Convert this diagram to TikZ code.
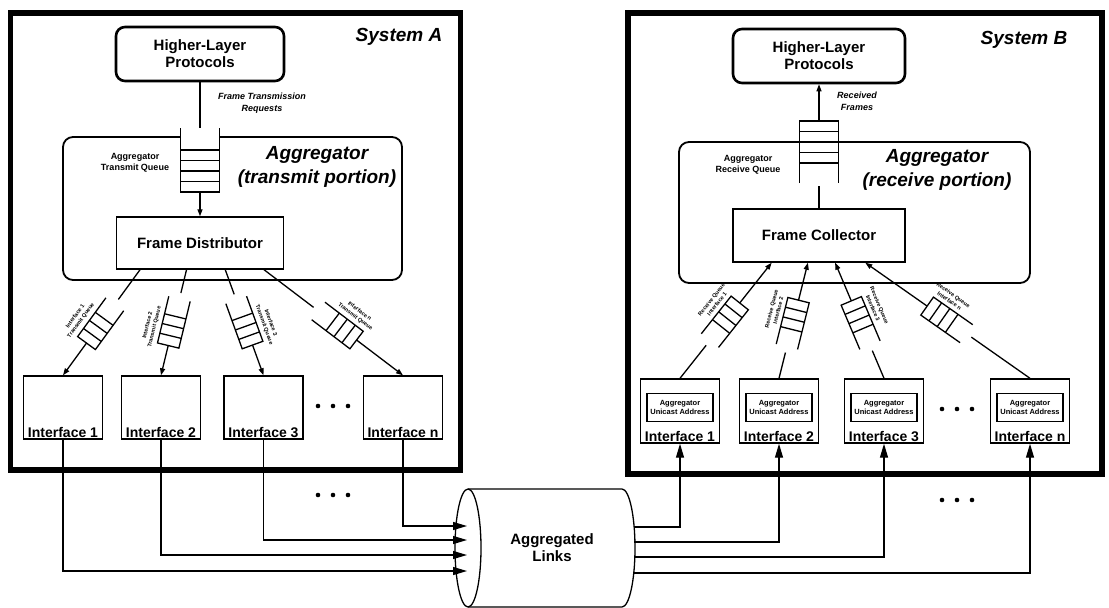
\documentclass[tikz,border=0pt]{standalone}
\usepackage{fontspec}
\setmainfont{Liberation Sans}
\usetikzlibrary{arrows.meta,calc,positioning}

% queue drawn across a connector: #1 open side, #2 arrow side, #3 pos, #4 label
\newcommand{\fifo}[4]{%
  \coordinate (qm) at ($(#1)!#3!(#2)$);
  \coordinate (qc) at ($(qm)!15pt!(#2)$);
  \coordinate (qo) at ($(qm)!-33pt!(#2)$);
  \draw[link] ($(qo)!11pt!90:(#2)$) -- ($(qc)!11pt!90:(#2)$)
    -- ($(qc)!11pt!-90:(#2)$) -- ($(qo)!11pt!-90:(#2)$);
  \foreach \d in {10pt,20pt,30pt}{
    \coordinate (qs) at ($(qc)!\d!(#1)$);
    \draw[link] ($(qs)!11pt!90:(#2)$) -- ($(qs)!11pt!-90:(#2)$);
  }
  \draw[link] (#1) -- ($(qo)!6pt!(#1)$);
  \draw[link, smallhead] (qc) -- (#2);
  \path (#1) -- (#2) node[qlabel, pos=#3, sloped, above=14pt] {#4};
}

\begin{document}
\begin{tikzpicture}[x=1pt,y=-1pt,
  sysframe/.style={draw, line width=5.5pt, inner sep=0pt},
  sysname/.style={font=\fontsize{19}{21}\selectfont\bfseries\itshape},
  hlbox/.style={draw, line width=2.6pt, rounded corners=9pt, align=center,
    font=\fontsize{15}{17}\selectfont\bfseries, minimum height=54pt},
  aggbox/.style={draw, line width=1.8pt, rounded corners=10pt},
  bigtitle/.style={align=center, font=\fontsize{19}{24}\selectfont\bfseries\itshape},
  procbox/.style={draw, line width=1.4pt, font=\fontsize{15}{17}\selectfont\bfseries,
    minimum height=52pt},
  ifbox/.style={draw, line width=1.4pt, minimum width=79pt, minimum height=63pt},
  ifname/.style={font=\fontsize{14}{16}\selectfont\bfseries, inner sep=2pt},
  addrbox/.style={draw, line width=1.1pt, minimum width=66pt, minimum height=28pt,
    inner sep=0pt, align=center, font=\fontsize{7.5}{9}\selectfont\bfseries},
  reqnote/.style={align=center, font=\fontsize{9}{12}\selectfont\bfseries\itshape},
  qname/.style={align=center, font=\fontsize{9}{11}\selectfont\bfseries},
  qlabel/.style={align=center, font=\fontsize{5.5}{7}\selectfont\bfseries, inner sep=1pt},
  linkname/.style={align=center, font=\fontsize{15}{17}\selectfont\bfseries},
  link/.style={line width=1.3pt},
  bighead/.style={-{Triangle[length=14pt,width=8pt]}},
  smallhead/.style={-{Triangle[length=7pt,width=5pt]}}]
\useasboundingbox (0,0) rectangle (1109,608);
\fill[white] (0,0) rectangle (1109,608);

% the two systems
\node[sysframe, minimum width=450pt, minimum height=457pt] (sysA) at (235.5,241.5) {};
\node[sysframe, minimum width=474pt, minimum height=461pt] (sysB) at (865,243.5) {};
\node[sysname] (sysAname) at (399,37) {System A};
\node[sysname] (sysBname) at (1024,40) {System B};

% transmit side
\node[hlbox, minimum width=168pt] (hlpA) at (200,54) {Higher-Layer\\Protocols};
\node[aggbox, minimum width=339pt, minimum height=143pt] (aggA) at (232.5,208.5) {};
\node[bigtitle] (aggAname) at (317,167) {Aggregator\\(transmit portion)};
\node[qname] (qAname) at (135,163) {Aggregator\\Transmit Queue};
\node[procbox, minimum width=167pt] (fdA) at (200,243) {Frame Distributor};
\node[reqnote] (reqA) at (262,103) {Frame Transmission\\Requests};

\coordinate (qAtop) at (200,128);
\coordinate (qAbot) at (200,192);
\fill[white] (180.5,128) rectangle (219.5,192);
\draw[link] (180.5,128) -- (180.5,192) -- (219.5,192) -- (219.5,128);
\foreach \y in {150,160.5,171,181.5}
  \draw[link] (180.5,\y) -- (219.5,\y);
\draw[link] (hlpA) -- (qAtop);
\draw[link, smallhead] (qAbot) -- (fdA);

\foreach \n/\x in {1/63,2/161,3/263.5,n/403}{
  \node[ifbox] (ifA\n) at (\x,407.5) {};
  \node[ifname, above] (ifA\n-t) at (ifA\n.south) {Interface \n};
}
\foreach \n/\f in {1/0.144,2/0.42,3/0.65,n/0.88}
  \coordinate (dA\n) at ($(fdA.south west)!\f!(fdA.south east)$);

\fifo{dA1}{ifA1.north}{0.58}{Interface 1\\Transmit Queue}
\fifo{dA2}{ifA2.north}{0.58}{Interface 2\\Transmit Queue}
\fifo{dA3}{ifA3.north}{0.58}{Interface 3\\Transmit Queue}
\fifo{dAn}{ifAn.north}{0.58}{Interface n\\Transmit Queue}

% receive side
\node[hlbox, minimum width=172pt] (hlpB) at (819,56) {Higher-Layer\\Protocols};
\node[aggbox, minimum width=351pt, minimum height=141pt] (aggB) at (854.5,212.5) {};
\node[bigtitle] (aggBname) at (937,170) {Aggregator\\(receive portion)};
\node[qname] (qBname) at (748,165) {Aggregator\\Receive Queue};
\node[procbox, minimum width=172pt, minimum height=53pt] (fcB) at (819,235.5) {Frame Collector};
\node[reqnote] (recB) at (857,101) {Received\\Frames};

\coordinate (qBtop) at (819,121);
\coordinate (qBbot) at (819,186);
\fill[white] (799.5,121) rectangle (838.5,183);
\draw[link] (799.5,183) -- (799.5,121) -- (838.5,121) -- (838.5,183);
\foreach \y in {131.5,142,152.5,163}
  \draw[link] (799.5,\y) -- (838.5,\y);
\draw[link, smallhead] (qBtop) -- (hlpB);
\draw[link] (fcB) -- (qBbot);

\foreach \n/\x in {1/680,2/779,3/884,n/1030}{
  \node[ifbox, minimum height=64pt] (ifB\n) at (\x,411) {};
  \node[addrbox] (adB\n) at ($(ifB\n.north)+(0,29)$) {Aggregator\\Unicast Address};
  \node[ifname, above] (ifB\n-t) at (ifB\n.south) {Interface \n};
}
\foreach \n/\f in {1/0.227,2/0.436,3/0.593,n/0.767}
  \coordinate (dB\n) at ($(fcB.south west)!\f!(fcB.south east)$);

\fifo{ifB1.north}{dB1}{0.55}{Receive Queue\\Interface 1}
\fifo{ifB2.north}{dB2}{0.55}{Receive Queue\\Interface 2}
\fifo{ifB3.north}{dB3}{0.55}{Receive Queue\\Interface 3}
\fifo{ifBn.north}{dBn}{0.55}{Receive Queue\\Interface n}

% aggregated links
\draw[link] (468,548) ellipse [x radius=13, y radius=59];
\draw[link] (468,489) -- (622,489) arc[start angle=-90, end angle=90, x radius=13, y radius=59]
  -- (468,607);
\node[linkname] (links) at (552,548) {Aggregated\\Links};

\foreach \n/\y in {1/571,2/555,3/540,n/526}{
  \coordinate (cA\n) at (467,\y);
  \draw[link, bighead] (ifA\n.south) |- (cA\n);
}
\foreach \n/\y in {1/527,2/542,3/557,n/573}{
  \coordinate (cB\n) at (634,\y);
  \draw[link, bighead] (cB\n) -| (ifB\n.south);
}

% more interfaces
\foreach \x in {318,333,348}{
  \fill (\x,406) circle (2.3);
  \fill (\x,495) circle (2.3);
}
\foreach \x in {942,957,972}{
  \fill (\x,409) circle (2.3);
  \fill (\x,500) circle (2.3);
}
\end{tikzpicture}
\end{document}
